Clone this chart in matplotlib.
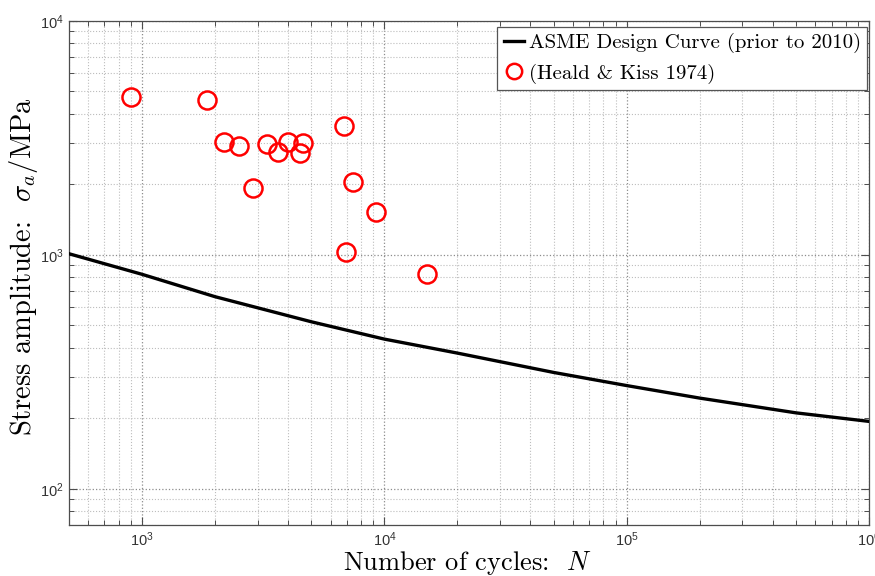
import matplotlib
matplotlib.use('Agg')
import matplotlib.pyplot as plt
from matplotlib.ticker import LogLocator, NullFormatter

plt.rcParams.update({
    'font.family': 'cmr10',
    'mathtext.fontset': 'cm',
    'axes.unicode_minus': False,
    'axes.formatter.use_mathtext': True,
})

# ASME design curve (prior to 2010), cycles vs stress amplitude in MPa
asme_cycles = [500, 1e3, 2e3, 5e3, 1e4, 2e4, 5e4, 1e5, 2e5, 5e5, 1e6]
asme_stress = [1010, 825, 662, 517, 436, 380, 314, 276, 244, 211, 194]

# Heald & Kiss (1974) test data
hk_cycles = [900, 1856, 2174, 2524, 2875, 3285, 3656, 3998, 4596, 4467,
             6807, 7447, 9205, 6936, 14960]
hk_stress = [4700, 4580, 3026, 2928, 1926, 2965, 2749, 3026, 3004, 2722,
             3566, 2037, 1519, 1023, 831]

GRID = '#8c8c8c'
AXIS = '#4d4d4d'

fig = plt.figure(figsize=(8.75, 5.76), dpi=100)
ax = fig.add_axes([0.0789, 0.0885, 0.9145, 0.8755])

ax.plot(asme_cycles, asme_stress, color='black', lw=2.4,
        label='ASME Design Curve (prior to 2010)', zorder=3)
ax.plot(hk_cycles, hk_stress, ls='none', marker='o', ms=13, mfc='none',
        mec='red', mew=1.8, label='(Heald & Kiss 1974)', zorder=4)

ax.set_xscale('log')
ax.set_yscale('log')
ax.set_xlim(500, 1e6)
ax.set_ylim(70, 1e4)

ax.xaxis.set_major_locator(LogLocator(base=10, numticks=10))
ax.yaxis.set_major_locator(LogLocator(base=10, numticks=10))
ax.xaxis.set_minor_locator(LogLocator(base=10, subs=range(2, 10), numticks=20))
ax.yaxis.set_minor_locator(LogLocator(base=10, subs=range(2, 10), numticks=20))
ax.xaxis.set_minor_formatter(NullFormatter())
ax.yaxis.set_minor_formatter(NullFormatter())

ax.grid(True, which='major', ls=':', color=GRID, lw=0.9)
ax.grid(True, which='minor', ls=':', color='#bdbdbd', lw=0.8)
ax.set_axisbelow(True)

ax.tick_params(which='both', direction='in', top=True, right=True,
               color=AXIS, labelcolor='#333333', labelsize=10.5,
               labelfontfamily='Liberation Sans')
ax.tick_params(which='major', length=6, width=0.8, pad=4)
ax.tick_params(which='minor', length=3.5, width=0.7)
for s in ax.spines.values():
    s.set_color(AXIS)
    s.set_linewidth(0.9)

ax.set_xlabel('Number of cycles:  $N$', fontsize=19)
ax.set_ylabel('Stress amplitude:  $\\sigma_a$/MPa', fontsize=20.5)
ax.xaxis.set_label_coords(0.4975, -0.048)
ax.yaxis.set_label_coords(-0.036, 0.513)

leg = ax.legend(loc='upper right', bbox_to_anchor=(0.9971, 0.988),
                borderaxespad=0, fontsize=15, frameon=True, fancybox=False,
                edgecolor='#555555', framealpha=1, markerscale=0.85,
                handlelength=1.0, handletextpad=0.2, borderpad=0.3,
                labelspacing=0.5)
leg.get_frame().set_linewidth(0.9)

fig.savefig('out.png', dpi=100, facecolor='white')
